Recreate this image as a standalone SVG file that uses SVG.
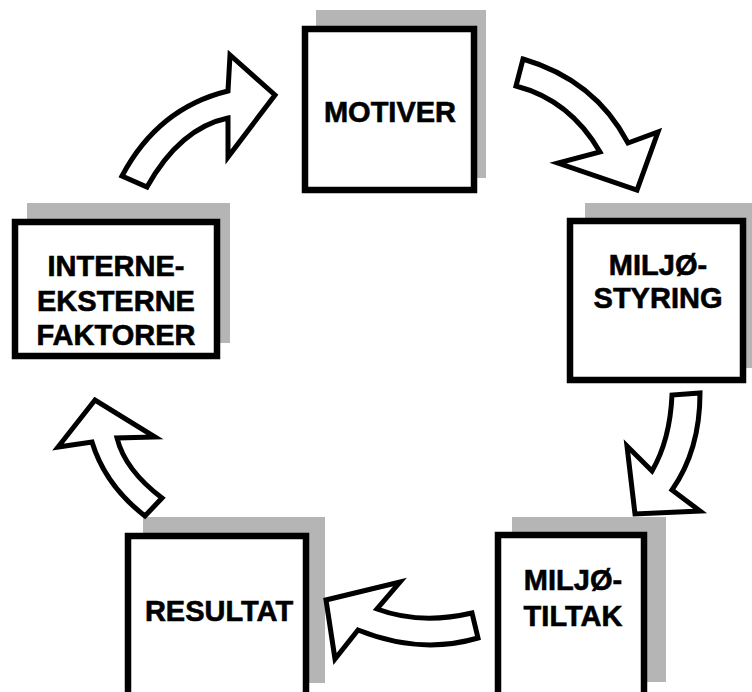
<svg xmlns="http://www.w3.org/2000/svg" width="752" height="692" viewBox="0 0 752 692">
  <style>
    .shadow { fill: #b5b5b5; }
    .box { fill: #ffffff; stroke: #000000; stroke-width: 6.5; }
    .label { font-family: "Liberation Sans", Arial, Helvetica, sans-serif; font-weight: bold; font-size: 29px; fill: #000000; stroke: #000000; stroke-width: 0.6; text-anchor: middle; }
    .arrow { fill: #ffffff; stroke: #000000; stroke-width: 5; stroke-linejoin: miter; }
  </style>
  <rect width="752" height="692" fill="#ffffff"/>

  <g id="motiver">
    <rect class="shadow" x="316" y="10" width="170" height="168"/>
    <rect class="box" x="305" y="29" width="169" height="161"/>
    <text class="label" x="390" y="122">MOTIVER</text>
  </g>

  <g id="miljostyring">
    <rect class="shadow" x="585" y="203" width="167" height="165"/>
    <rect class="box" x="570" y="221" width="173" height="159"/>
    <text class="label" x="658" y="275">MILJØ-</text>
    <text class="label" x="658" y="308">STYRING</text>
  </g>

  <g id="miljotiltak">
    <rect class="shadow" x="512" y="517" width="154" height="165"/>
    <rect class="box" x="498" y="535" width="146" height="165"/>
    <text class="label" x="573" y="590">MILJØ-</text>
    <text class="label" x="573" y="626">TILTAK</text>
  </g>

  <g id="resultat">
    <rect class="shadow" x="143" y="517" width="182" height="166"/>
    <rect class="box" x="128" y="536" width="178" height="165"/>
    <text class="label" x="219" y="621">RESULTAT</text>
  </g>

  <g id="faktorer">
    <rect class="shadow" x="27" y="203" width="203" height="140"/>
    <rect class="box" x="15" y="222" width="202" height="134"/>
    <text class="label" x="116" y="276">INTERNE-</text>
    <text class="label" x="116" y="311">EKSTERNE</text>
    <text class="label" x="116" y="345">FAKTORER</text>
  </g>

  <g id="connectors">
    <path class="arrow" d="M122,176 Q158,108 228,91 L230,55 L275,95 L228,157 L228,118 Q180,128 147,187 Z"/>
    <path class="arrow" d="M523,59 Q595,80 628,143 L658,132 L637,190 L558,163 L600,152 Q570,100 516,86 Z"/>
    <path class="arrow" d="M700,393 Q700,450 672,490 L700,511 L635,514 L627,446 L652,471 Q670,440 672,395 Z"/>
    <path class="arrow" d="M472,613 Q420,625 377,609 L400,582 L326,600 L335,659 L358,630 Q420,655 478,638 Z"/>
    <path class="arrow" d="M162,498 Q125,470 117,438 L155,437 L95,400 L58,447 L92,442 Q105,485 145,516 Z"/>
  </g>
</svg>
